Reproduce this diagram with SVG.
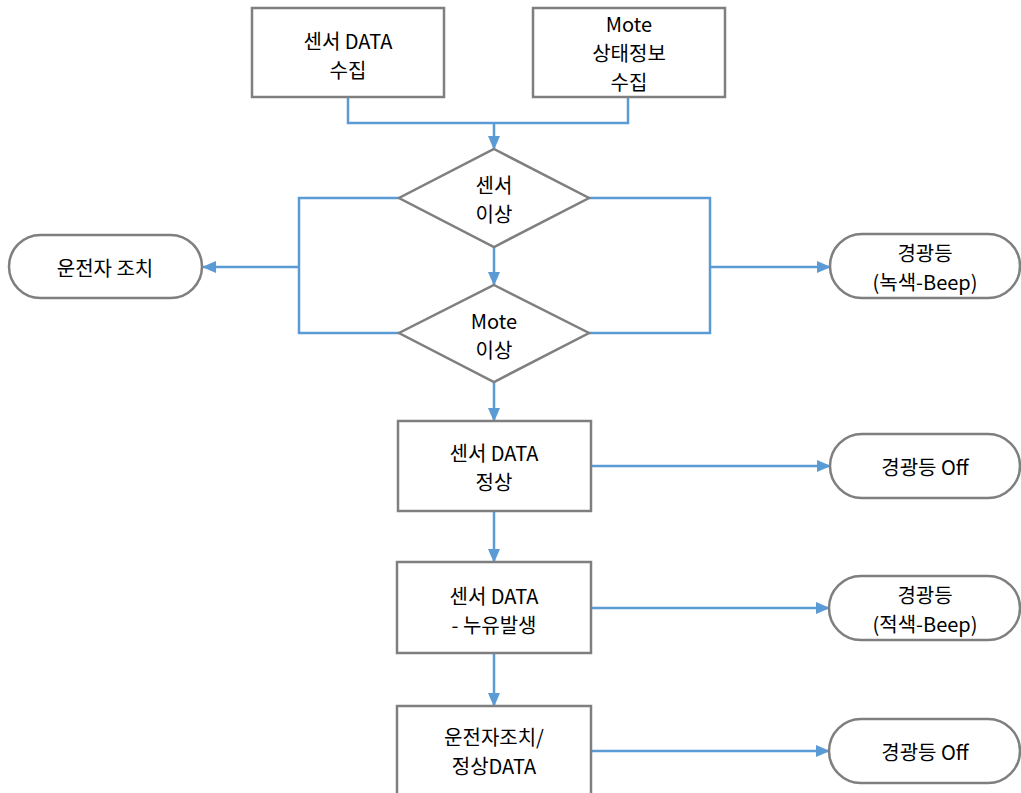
<svg xmlns="http://www.w3.org/2000/svg" width="1021" height="793" viewBox="0 0 1021 793">
<style>
.n{fill:#fff;stroke:#7f7f7f;stroke-width:2.5}
.c{fill:none;stroke:#5b9bd5;stroke-width:2.5}
text{font-family:"Noto Sans CJK KR","Malgun Gothic",sans-serif;font-size:20px;fill:#000;text-anchor:middle;dominant-baseline:central}
</style>
<defs>
<marker id="ah" markerWidth="14" markerHeight="12" refX="13" refY="6" orient="auto" markerUnits="userSpaceOnUse">
<path d="M0,0 L14,6 L0,12 Z" fill="#5b9bd5"/>
</marker>
</defs>
<rect width="1021" height="793" fill="#fff"/>
<g id="connectors">
<polyline class="c" points="348,97 348,123 628,123 628,97"/>
<line class="c" x1="494" y1="123" x2="494" y2="149" marker-end="url(#ah)"/>
<line class="c" x1="494" y1="247" x2="494" y2="285" marker-end="url(#ah)"/>
<polyline class="c" points="399,198 299,198 299,333 399,333"/>
<line class="c" x1="299" y1="267" x2="203" y2="267" marker-end="url(#ah)"/>
<polyline class="c" points="589,198 710,198 710,333 589,333"/>
<line class="c" x1="710" y1="267" x2="830" y2="267" marker-end="url(#ah)"/>
<line class="c" x1="494" y1="382" x2="494" y2="421" marker-end="url(#ah)"/>
<line class="c" x1="591" y1="466" x2="830" y2="466" marker-end="url(#ah)"/>
<line class="c" x1="494" y1="511" x2="494" y2="562" marker-end="url(#ah)"/>
<line class="c" x1="591" y1="608" x2="829" y2="608" marker-end="url(#ah)"/>
<line class="c" x1="494" y1="653" x2="494" y2="706" marker-end="url(#ah)"/>
<line class="c" x1="591" y1="751" x2="829" y2="751" marker-end="url(#ah)"/>
</g>
<g id="box1"><rect class="n" x="252" y="8" width="192" height="89"/><text x="348" y="40">센서 DATA</text><text x="348" y="69">수집</text></g>
<g id="box2"><rect class="n" x="533" y="8" width="192" height="89"/><text x="629" y="23">Mote</text><text x="629" y="52">상태정보</text><text x="629" y="81">수집</text></g>
<g id="dec1"><polygon class="n" points="494,149 589,198 494,247 399,198"/><text x="494" y="184">센서</text><text x="494" y="213">이상</text></g>
<g id="dec2"><polygon class="n" points="494,285 589,333 494,382 399,333"/><text x="494" y="320">Mote</text><text x="494" y="349">이상</text></g>
<g id="term-left"><rect class="n" x="9" y="235" width="193" height="63" rx="31.5"/><text x="105" y="267">운전자 조치</text></g>
<g id="term1"><rect class="n" x="830" y="234" width="190" height="64" rx="32"/><text x="925" y="252">경광등</text><text x="925" y="281">(녹색-Beep)</text></g>
<g id="box3"><rect class="n" x="398" y="421" width="193" height="90"/><text x="494" y="452">센서 DATA</text><text x="494" y="481">정상</text></g>
<g id="term2"><rect class="n" x="830" y="434" width="190" height="64" rx="32"/><text x="925" y="466">경광등 Off</text></g>
<g id="box4"><rect class="n" x="397" y="562" width="194" height="91"/><text x="494" y="595">센서 DATA</text><text x="494" y="624">- 누유발생</text></g>
<g id="term3"><rect class="n" x="829" y="576" width="191" height="64" rx="32"/><text x="925" y="594">경광등</text><text x="925" y="623">(적색-Beep)</text></g>
<g id="box5"><rect class="n" x="397" y="706" width="194" height="100"/><text x="494" y="736">운전자조치/</text><text x="494" y="765">정상DATA</text></g>
<g id="term4"><rect class="n" x="829" y="719" width="191" height="64" rx="32"/><text x="925" y="751">경광등 Off</text></g>
</svg>
